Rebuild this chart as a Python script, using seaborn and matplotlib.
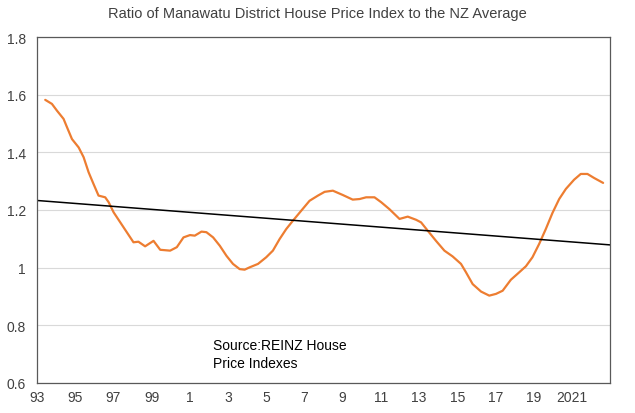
import numpy as np
import pandas as pd
import matplotlib
matplotlib.use("Agg")
import matplotlib.pyplot as plt
from matplotlib.ticker import MultipleLocator, FixedLocator
import seaborn as sns

# Datos (ano decimal, ratio)
years = [1993.43, 1993.78, 1994.05, 1994.39, 1994.57, 1994.83, 1995.18, 1995.44,
         1995.70, 1995.96, 1996.22, 1996.57, 1996.75, 1997.01, 1997.36, 1997.70,
         1998.05, 1998.31, 1998.66, 1999.10, 1999.45, 1999.97, 2000.32, 2000.67,
         2001.01, 2001.26, 2001.61, 2001.87, 2002.22, 2002.57, 2002.92, 2003.26,
         2003.61, 2003.87, 2004.13, 2004.57, 2005.00, 2005.35, 2005.70, 2006.05,
         2006.40, 2006.84, 2007.27, 2007.71, 2008.06, 2008.49, 2009.01, 2009.53,
         2009.89, 2010.23, 2010.67, 2011.02, 2011.45, 2011.98, 2012.41, 2012.85,
         2013.11, 2013.46, 2013.89, 2014.33, 2014.76, 2015.20, 2015.46, 2015.81,
         2016.25, 2016.68, 2017.03, 2017.38, 2017.81, 2018.25, 2018.60, 2018.94,
         2019.29, 2019.64, 2019.99, 2020.34, 2020.69, 2021.12, 2021.47, 2021.82,
         2022.17, 2022.64]
ratio = [1.582, 1.568, 1.544, 1.516, 1.487, 1.446, 1.417, 1.383,
         1.331, 1.290, 1.250, 1.244, 1.227, 1.192, 1.157, 1.123,
         1.088, 1.090, 1.074, 1.093, 1.062, 1.059, 1.071, 1.105,
         1.113, 1.111, 1.125, 1.123, 1.105, 1.076, 1.041, 1.013,
         0.995, 0.993, 1.001, 1.013, 1.036, 1.059, 1.099, 1.134,
         1.163, 1.198, 1.232, 1.250, 1.263, 1.267, 1.252, 1.236,
         1.238, 1.244, 1.244, 1.227, 1.203, 1.169, 1.177, 1.166,
         1.157, 1.128, 1.093, 1.059, 1.039, 1.013, 0.984, 0.943,
         0.917, 0.903, 0.909, 0.920, 0.958, 0.984, 1.005, 1.036,
         1.082, 1.134, 1.190, 1.238, 1.273, 1.305, 1.325, 1.325,
         1.311, 1.294]

# Linea de tendencia
trend_years = [1993.0, 2023.0]
trend_vals = [1.233, 1.079]

tick_pos = [1993, 1995, 1997, 1999, 2001, 2003, 2005, 2007, 2009, 2011,
            2013, 2015, 2017, 2019, 2021]
tick_labels = ["93", "95", "97", "99", "1", "3", "5", "7", "9", "11",
               "13", "15", "17", "19", "2021"]

df = pd.DataFrame({"year": years, "ratio": ratio})
df_trend = pd.DataFrame({"year": trend_years, "ratio": trend_vals})

sns.set_style("white")
plt.rcParams["font.family"] = ["Liberation Sans", "DejaVu Sans"]

fig = plt.figure(figsize=(6.35, 4.14), dpi=100)
ax = fig.add_axes([0.0583, 0.0725, 0.9023, 0.8357])

sns.lineplot(data=df, x="year", y="ratio", ax=ax, color="#ED7D31", linewidth=1.6)
sns.lineplot(data=df_trend, x="year", y="ratio", ax=ax, color="black", linewidth=1.1)

ax.set_xlim(1993, 2023)
ax.set_ylim(0.6, 1.8)
ax.set_yticks([0.6, 0.8, 1.0, 1.2, 1.4, 1.6, 1.8])
ax.set_yticklabels(["0.6", "0.8", "1", "1.2", "1.4", "1.6", "1.8"])
ax.yaxis.grid(True, color="#D9D9D9", linewidth=0.8)
ax.set_axisbelow(True)

ax.xaxis.set_major_locator(FixedLocator(tick_pos))
ax.set_xticklabels(tick_labels)
ax.xaxis.set_minor_locator(MultipleLocator(1))
ax.tick_params(axis="x", which="both", direction="inout", length=6, width=0.8,
               color="#404040", labelsize=10, labelcolor="#404040", pad=2)
ax.tick_params(axis="y", length=0, labelsize=10, labelcolor="#404040", pad=8)

for side in ["left", "bottom", "top", "right"]:
    ax.spines[side].set_color("#595959")
    ax.spines[side].set_linewidth(0.9)

ax.set_xlabel("")
ax.set_ylabel("")

fig.text(0.5, 0.965, "Ratio of Manawatu District House Price Index to the NZ Average",
         ha="center", va="center", fontsize=10.5, color="#404040")
ax.text(2002.2, 0.70, "Source:REINZ House\nPrice Indexes", fontsize=10,
        color="black", va="center", ha="left", linespacing=1.35)

fig.savefig("out.png", dpi=100)
